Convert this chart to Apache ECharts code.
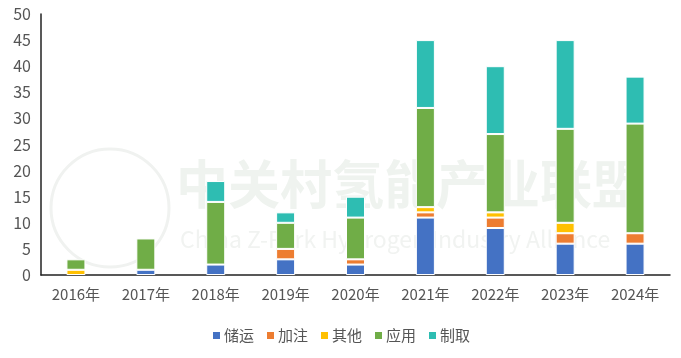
<!DOCTYPE html>
<html><head><meta charset="utf-8">
<script src="https://cdn.jsdelivr.net/npm/echarts@6/dist/echarts.min.js"></script>
<style>html,body{margin:0;padding:0;background:#fff;}#c{width:681px;height:358px;}</style>
</head><body><div id="c"></div>
<script>
var categories = ['2016年','2017年','2018年','2019年','2020年','2021年','2022年','2023年','2024年'];
var seriesNames = ['储运','加注','其他','应用','制取'];
var storage = [0, 1, 2, 3, 2, 11, 9, 6, 6];
var refuel = [0, 0, 0, 2, 1, 1, 2, 2, 2];
var other = [1, 0, 0, 0, 0, 1, 1, 2, 0];
var application = [2, 6, 12, 5, 8, 19, 15, 18, 21];
var production = [0, 0, 4, 2, 4, 13, 13, 17, 9];
var yTicks = [0, 5, 10, 15, 20, 25, 30, 35, 40, 45, 50];
var colors = ['#4472C4','#ED7D31','#FFC000','#70AD47','#2EBDB2'];
var values = [storage, refuel, other, application, production];

var chart = echarts.init(document.getElementById('c'));
var font = '"Microsoft YaHei","Noto Sans CJK SC","Noto Sans",sans-serif';
chart.setOption({
  animation: false,
  color: colors,
  textStyle: {fontFamily: font},
  grid: {left: 41, right: 11, top: 14, bottom: 83},
  graphic: [
    {type: 'circle', shape: {cx: 110, cy: 208, r: 59}, style: {fill: 'none', stroke: '#f0f2f0', lineWidth: 3}, z: 0},
    {type: 'text', left: 176, top: 158, style: {text: '中关村氢能产业联盟', font: 'bold 52px ' + font, fill: '#eff3ef'}, z: 0},
    {type: 'text', left: 180, top: 228, style: {text: 'China Z-Park Hydrogen Industry Alliance', font: '23px ' + font, fill: '#f1f3f1'}, z: 0}
  ],
  legend: {
    bottom: 10, left: 'center',
    itemWidth: 9, itemHeight: 9, itemGap: 11,
    icon: 'rect',
    textStyle: {fontSize: 15, color: '#555', padding: [0, 0, 0, -2]},
    data: seriesNames
  },
  xAxis: {
    type: 'category', data: categories,
    axisLine: {lineStyle: {color: '#222', width: 1.5}},
    axisTick: {show: false},
    axisLabel: {fontSize: 15, color: '#555', margin: 12}
  },
  yAxis: {
    type: 'value', min: 0, max: 50, interval: 5,
    axisLine: {show: true, lineStyle: {color: '#222', width: 1.5}},
    axisTick: {show: false},
    splitLine: {show: false},
    axisLabel: {fontSize: 16, color: '#555', margin: 10}
  },
  series: seriesNames.map(function(n, i) {
    return {
      name: n, type: 'bar', stack: 'total', barWidth: 19,
      itemStyle: {color: colors[i], borderColor: '#fff', borderWidth: 1},
      data: values[i].map(function(v){ return v === 0 ? null : v; })
    };
  })
});
</script></body></html>
